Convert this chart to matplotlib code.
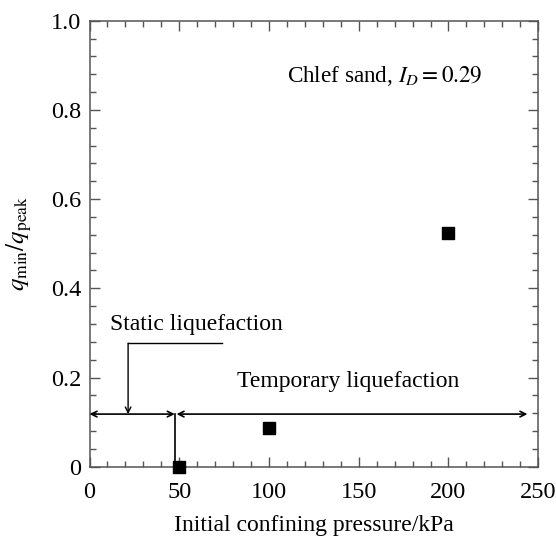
import matplotlib.pyplot as plt
from matplotlib.ticker import MultipleLocator

# data
pressure = [50, 100, 200]
q_ratio = [0.0, 0.087, 0.525]

x_ticks = [0, 50, 100, 150, 200, 250]
y_ticks = [0, 0.2, 0.4, 0.6, 0.8, 1.0]
y_tick_labels = ['0', '0.2', '0.4', '0.6', '0.8', '1.0']

plt.rcParams['font.family'] = ['Liberation Serif', 'DejaVu Serif']
plt.rcParams['mathtext.fontset'] = 'stix'

fig = plt.figure(figsize=(5.56, 5.38), dpi=100)
ax = fig.add_axes([0.161, 0.1325, 0.807, 0.829])

ax.scatter(pressure, q_ratio, marker='s', s=65, color='black', zorder=5, clip_on=False)

# liquefaction regions
arrow_y = 0.118
ax.annotate('', xy=(0, arrow_y), xytext=(47.5, arrow_y),
            arrowprops=dict(arrowstyle='<->', color='black', lw=1.2, shrinkA=0, shrinkB=0,
                            mutation_scale=10))
ax.annotate('', xy=(48.5, arrow_y), xytext=(244, arrow_y),
            arrowprops=dict(arrowstyle='<->', color='black', lw=1.2, shrinkA=0, shrinkB=0,
                            mutation_scale=10))
ax.plot([47.7, 47.7], [0, arrow_y], color='black', lw=1.2)

# leader for static liquefaction
ax.plot([74, 21.5], [0.277, 0.277], color='black', lw=1.0)
ax.annotate('', xy=(21.5, arrow_y), xytext=(21.5, 0.277),
            arrowprops=dict(arrowstyle='->', color='black', lw=1.0, shrinkA=0, shrinkB=0,
                            mutation_scale=10))

ax.text(11.5, 0.318, 'Static liquefaction', fontsize=17, va='center', ha='left')
ax.text(82, 0.192, 'Temporary liquefaction', fontsize=17, va='center', ha='left')
ax.text(110, 0.876, r'Chlef sand, $I_D=0.29$', fontsize=16.7, va='center', ha='left')

ax.set_xlim(0, 250)
ax.set_ylim(0, 1.0)
ax.set_xticks(x_ticks)
ax.set_yticks(y_ticks)
ax.set_yticklabels(y_tick_labels)
ax.xaxis.set_minor_locator(MultipleLocator(10))
ax.yaxis.set_minor_locator(MultipleLocator(0.04))
ax.tick_params(which='both', direction='in', top=True, right=True, labelsize=17.5, color='#555555')
ax.tick_params(which='major', length=7, width=1)
ax.tick_params(which='minor', length=4, width=1)
ax.tick_params(axis='x', which='major', pad=11)
ax.tick_params(axis='y', which='major', pad=6)
for sp in ax.spines.values():
    sp.set_color('#555555')
    sp.set_linewidth(1.1)

ax.set_xlabel('Initial confining pressure/kPa', fontsize=17, labelpad=8.5)
ax.set_ylabel(r'$q_{\rm min}/q_{\rm peak}$', fontsize=18, labelpad=12)

fig.savefig('out.png', dpi=100)
